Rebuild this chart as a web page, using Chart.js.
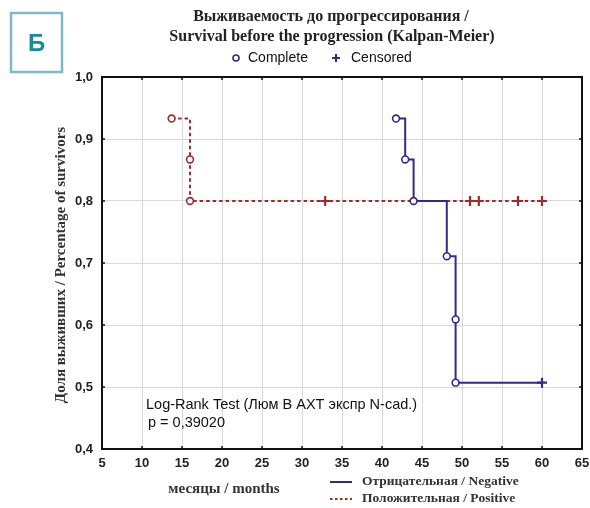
<!DOCTYPE html>
<html>
<head>
<meta charset="utf-8">
<script src="https://cdn.jsdelivr.net/npm/chart.js@4.4.1/dist/chart.umd.min.js"></script>
<style>
  html, body { margin: 0; padding: 0; background: #fff; }
  #wrap { width: 590px; height: 508px; }
</style>
</head>
<body>
<div id="wrap"><canvas id="kmChart" width="590" height="508"></canvas></div>
<script>
// Kaplan-Meier data
const negMonths   = [41.75, 42.9, 43.95, 48.1, 49.2, 49.2, 60.0];
const negSurvival = [0.933, 0.867, 0.800, 0.711, 0.609, 0.507, 0.507];
const negCensored = [false, false, false, false, false, false, true];

const posMonths   = [13.7, 16.0, 16.0, 32.9, 51.0, 52.1, 57.0, 60.0];
const posSurvival = [0.933, 0.867, 0.800, 0.800, 0.800, 0.800, 0.800, 0.800];
const posCensored = [false, false, false, true, true, true, true, true];

const xTicks = [5, 10, 15, 20, 25, 30, 35, 40, 45, 50, 55, 60, 65];
const yTicks = [0.4, 0.5, 0.6, 0.7, 0.8, 0.9, 1.0];

const NAVY = '#2d2d88';
const RED = '#a3282b';

function toPoints(xs, ys) {
    return xs.map((x, i) => ({ x: x, y: ys[i] }));
}

// decorations: frame, titles, legends, annotation, panel letter
const decorPlugin = {
    id: 'decor',
    afterDraw(chart) {
        const ctx = chart.ctx;
        const a = chart.chartArea;
        const xs = chart.scales.x, ys = chart.scales.y;
        ctx.save();

        // frame
        ctx.strokeStyle = '#111';
        ctx.lineWidth = 2;
        ctx.strokeRect(a.left, a.top, a.right - a.left, a.bottom - a.top);
        // small inner ticks
        ctx.lineWidth = 1.5;
        ctx.beginPath();
        xTicks.forEach(v => {
            const px = xs.getPixelForValue(v);
            ctx.moveTo(px, a.top); ctx.lineTo(px, a.top + 3);
            ctx.moveTo(px, a.bottom); ctx.lineTo(px, a.bottom - 3);
        });
        yTicks.forEach(v => {
            const py = ys.getPixelForValue(v);
            ctx.moveTo(a.left, py); ctx.lineTo(a.left + 3, py);
            ctx.moveTo(a.right, py); ctx.lineTo(a.right - 3, py);
        });
        ctx.stroke();

        // panel letter box
        ctx.strokeStyle = '#7fb9c7';
        ctx.lineWidth = 2.5;
        ctx.strokeRect(11, 13, 51, 59);
        ctx.fillStyle = '#1b8ba0';
        ctx.font = 'bold 24px "Liberation Sans", Arial, sans-serif';
        ctx.textAlign = 'center';
        ctx.textBaseline = 'middle';
        ctx.fillText('Б', 36.5, 44);

        // title
        ctx.fillStyle = '#222';
        ctx.font = 'bold 16px "Liberation Serif", "Times New Roman", serif';
        ctx.fillText('Выживаемость до прогрессирования /', 331, 17);
        ctx.fillText('Survival before the progression (Kalpan-Meier)', 332, 37);

        // top legend
        ctx.font = '14px "Liberation Sans", Arial, sans-serif';
        ctx.textAlign = 'left';
        ctx.fillStyle = '#111';
        ctx.fillText('Complete', 248, 58);
        ctx.fillText('Censored', 351, 58);
        ctx.strokeStyle = NAVY;
        ctx.fillStyle = '#fff';
        ctx.lineWidth = 1.6;
        ctx.beginPath(); ctx.arc(236, 58, 3, 0, Math.PI * 2); ctx.fill(); ctx.stroke();
        ctx.lineWidth = 2;
        ctx.beginPath();
        ctx.moveTo(332, 58); ctx.lineTo(340, 58);
        ctx.moveTo(336, 54); ctx.lineTo(336, 62);
        ctx.stroke();

        // y axis title
        ctx.save();
        ctx.translate(61, 265);
        ctx.rotate(-Math.PI / 2);
        ctx.textAlign = 'center';
        ctx.fillStyle = '#333';
        ctx.font = 'bold 15px "Liberation Serif", "Times New Roman", serif';
        ctx.fillText('Доля выживших / Percentage of survivors', 0, 0);
        ctx.restore();

        // x axis title
        ctx.textAlign = 'center';
        ctx.fillStyle = '#333';
        ctx.font = 'bold 15px "Liberation Serif", "Times New Roman", serif';
        ctx.fillText('месяцы / months', 224, 489);

        // bottom legend
        ctx.textAlign = 'left';
        ctx.font = 'bold 13.5px "Liberation Serif", "Times New Roman", serif';
        ctx.fillText('Отрицательная / Negative', 362, 482);
        ctx.fillText('Положительная / Positive', 362, 499);
        ctx.strokeStyle = NAVY;
        ctx.lineWidth = 2;
        ctx.beginPath(); ctx.moveTo(330, 482); ctx.lineTo(352, 482); ctx.stroke();
        ctx.strokeStyle = RED;
        ctx.setLineDash([2.5, 2.5]);
        ctx.beginPath(); ctx.moveTo(330, 499); ctx.lineTo(352, 499); ctx.stroke();
        ctx.setLineDash([]);

        // log-rank annotation
        ctx.fillStyle = '#111';
        ctx.font = '14.5px "Liberation Sans", Arial, sans-serif';
        ctx.fillText('Log-Rank Test (Люм В АХТ экспр N-cad.)', 146, 405);
        ctx.fillText('p = 0,39020', 148, 423);

        ctx.restore();
    }
};

const ctx = document.getElementById('kmChart').getContext('2d');
const kmChart = new Chart(ctx, {
    type: 'scatter',
    data: {
        datasets: [{
            label: 'Отрицательная / Negative',
            data: toPoints(negMonths, negSurvival),
            showLine: true,
            stepped: true,
            borderColor: NAVY,
            borderWidth: 2,
            pointStyle: negCensored.map(c => c ? 'cross' : 'circle'),
            pointRadius: negCensored.map(c => c ? 5 : 3.4),
            pointBorderWidth: negCensored.map(c => c ? 2.2 : 1.6),
            pointBackgroundColor: '#fff',
            pointBorderColor: NAVY
        },
        {
            label: 'Положительная / Positive',
            data: toPoints(posMonths, posSurvival),
            showLine: true,
            stepped: true,
            borderColor: RED,
            borderWidth: 2,
            borderDash: [3.5, 3],
            pointStyle: posCensored.map(c => c ? 'cross' : 'circle'),
            pointRadius: posCensored.map(c => c ? 5 : 3.4),
            pointBorderWidth: posCensored.map(c => c ? 2.2 : 1.6),
            pointBackgroundColor: '#fff',
            pointBorderColor: RED
        }]
    },
    options: {
        responsive: false,
        animation: false,
        layout: {
            padding: { left: 0, top: 77, right: 8, bottom: 0 }
        },
        plugins: {
            legend: { display: false },
            title: { display: false },
            tooltip: { enabled: false }
        },
        scales: {
            x: {
                type: 'linear',
                min: 5,
                max: 65,
                afterFit: s => { s.height = 59; s.paddingLeft = 0; s.paddingRight = 0; },
                afterBuildTicks: s => { s.ticks = xTicks.map(v => ({ value: v })); },
                grid: { color: '#d9d9d9', lineWidth: 1, drawTicks: false },
                border: { display: false },
                ticks: {
                    padding: 7,
                    color: '#222',
                    font: { family: '"Liberation Sans", Arial, sans-serif', size: 13, weight: 'bold' }
                }
            },
            y: {
                type: 'linear',
                min: 0.4,
                max: 1.0,
                afterFit: s => { s.width = 102; s.paddingTop = 0; s.paddingBottom = 0; },
                afterBuildTicks: s => { s.ticks = yTicks.map(v => ({ value: v })); },
                grid: { color: '#d9d9d9', lineWidth: 1, drawTicks: false },
                border: { display: false },
                ticks: {
                    padding: 9,
                    color: '#222',
                    font: { family: '"Liberation Sans", Arial, sans-serif', size: 13, weight: 'bold' },
                    callback: v => v.toFixed(1).replace('.', ',')
                }
            }
        }
    },
    plugins: [decorPlugin]
});
</script>
</body>
</html>
